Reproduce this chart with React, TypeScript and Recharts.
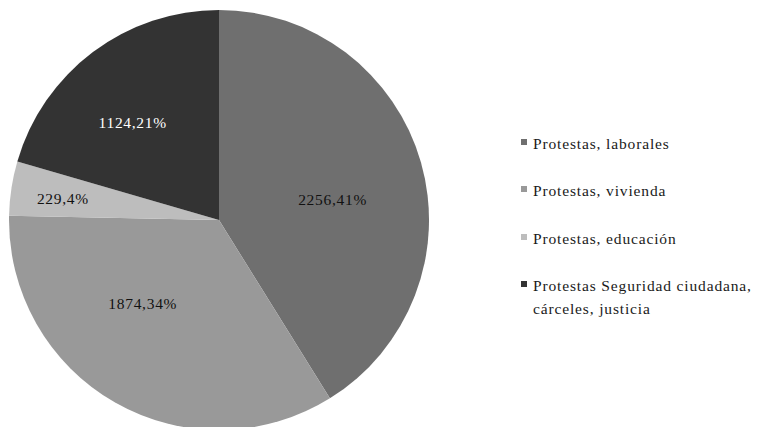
import React from "react";
import { PieChart, Pie, Cell, Legend } from "recharts";

const categories = [
  "Protestas, laborales",
  "Protestas, vivienda",
  "Protestas, educación",
  "Protestas Seguridad ciudadana, cárceles, justicia",
];
const values = [2256, 1874, 229, 1124];
const percentLabels = ["41%", "34%", "4%", "21%"];
const colors = ["#6f6f6f", "#999999", "#bdbdbd", "#333333"];
const labelColors = ["#111111", "#111111", "#111111", "#ffffff"];

const data = categories.map((name, i) => ({
  name,
  value: values[i],
  pct: percentLabels[i],
}));

const FONT = '"Liberation Serif", "DejaVu Serif", serif';
const RADIAN = Math.PI / 180;
// label placement (radius fraction, angle nudge in degrees) per slice
const labelRadius = [0.55, 0.54, 0.75, 0.62];
const labelNudge = [-5.5, -12.6, 1, 4.6];

const renderLabel = (props: any) => {
  const { cx, cy, midAngle, outerRadius, index, value } = props;
  const a = (midAngle + labelNudge[index]) * RADIAN;
  const r = outerRadius * labelRadius[index];
  const x = cx + r * Math.cos(a);
  const y = cy - r * Math.sin(a);
  return (
    <text
      x={x}
      y={y}
      fill={labelColors[index]}
      textAnchor="middle"
      dominantBaseline="central"
      fontFamily={FONT}
      fontSize={15.5}
      letterSpacing={0.7}
    >
      {`${value},${data[index].pct}`}
    </text>
  );
};

const renderLegend = () => (
  <div style={{ fontFamily: FONT, fontSize: 15.5, letterSpacing: 0.85, color: "#1a1a1a" }}>
    {data.map((d, i) => (
      <div
        key={d.name}
        style={{
          display: "flex",
          alignItems: "flex-start",
          marginBottom: 24.5,
          lineHeight: "23px",
        }}
      >
        <div
          style={{
            width: 6,
            height: 6,
            background: colors[i],
            marginTop: 7,
            marginRight: 6,
            flex: "none",
          }}
        />
        <div style={{ width: 228 }}>{d.name}</div>
      </div>
    ))}
  </div>
);

export default function App() {
  return (
    <div style={{ position: "absolute", left: 0, top: 0, width: 757, height: 427, background: "#ffffff" }}>
      <PieChart width={757} height={427} margin={{ top: 0, right: 0, bottom: 0, left: 0 }}>
        <Pie
          data={data}
          dataKey="value"
          nameKey="name"
          cx={219}
          cy={220}
          outerRadius={210}
          startAngle={90}
          endAngle={-270}
          stroke="none"
          label={renderLabel}
          labelLine={false}
          isAnimationActive={false}
        >
          {data.map((d, i) => (
            <Cell key={d.name} fill={colors[i]} />
          ))}
        </Pie>
        <Legend
          content={renderLegend}
          wrapperStyle={{ position: "absolute", left: 521, top: 131.5, width: 236 }}
        />
      </PieChart>
    </div>
  );
}
